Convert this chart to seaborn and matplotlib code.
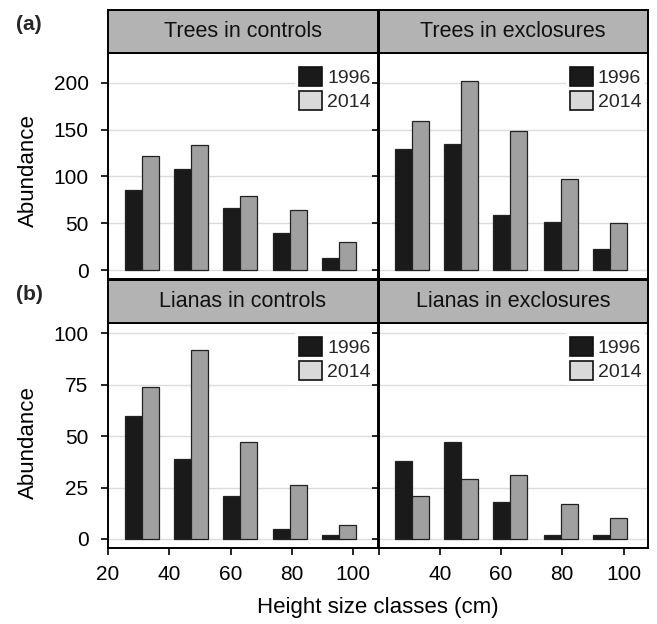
import matplotlib
matplotlib.use("Agg")
import matplotlib.pyplot as plt
import seaborn as sns
import pandas as pd
from matplotlib.patches import Patch

# ---------------- data ----------------
height_class_mid = [31, 47, 63, 79.5, 95.5]
years = ["1996", "2014"]

trees_controls_1996 = [86, 108, 66, 40, 13]
trees_controls_2014 = [122, 134, 79, 64, 30]
trees_exclosures_1996 = [129, 135, 59, 51, 22]
trees_exclosures_2014 = [159, 202, 149, 97, 50]
lianas_controls_1996 = [60, 39, 21, 5, 2]
lianas_controls_2014 = [74, 92, 47, 26, 7]
lianas_exclosures_1996 = [38, 47, 18, 2, 2]
lianas_exclosures_2014 = [21, 29, 31, 17, 10]

panel_titles = ["Trees in controls", "Trees in exclosures",
                "Lianas in controls", "Lianas in exclosures"]
x_ticks = [20, 40, 60, 80, 100]
x_tick_labels_left = ["20", "40", "60", "80", "100"]
x_tick_labels_right = ["", "40", "60", "80", "100"]
trees_y_ticks = [0, 50, 100, 150, 200]
lianas_y_ticks = [0, 25, 50, 75, 100]
row_labels = ["(a)", "(b)"]
x_label = "Height size classes (cm)"
y_label = "Abundance"

# ---------------- style ----------------
sns.set_theme(style="white")
plt.rcParams["font.family"] = ["Liberation Sans", "DejaVu Sans"]

bar_colors = {"1996": "#1a1a1a", "2014": "#a0a0a0"}
legend_colors = {"1996": "#1a1a1a", "2014": "#d9d9d9"}
strip_color = "#b3b3b3"

W, H = 657, 624
fig = plt.figure(figsize=(W / 100, H / 100), dpi=100)


def box(x0, y0, x1, y1):
    return [x0 / W, 1 - y1 / H, (x1 - x0) / W, (y1 - y0) / H]


cols = [(108, 377.5), (378.5, 648)]
rows = [dict(strip=(10, 53), plot=(53, 279), ylim=(-9.6, 232),
             yticks=trees_y_ticks, label_y=0.482),
        dict(strip=(280, 323), plot=(323, 548), ylim=(-4.4, 105),
             yticks=lianas_y_ticks, label_y=0.467)]

panel_data = [(trees_controls_1996, trees_controls_2014),
              (trees_exclosures_1996, trees_exclosures_2014),
              (lianas_controls_1996, lianas_controls_2014),
              (lianas_exclosures_1996, lianas_exclosures_2014)]

spine_lw = 1.4

for r, row in enumerate(rows):
    for c, (x0, x1) in enumerate(cols):
        i = r * 2 + c
        v96, v14 = panel_data[i]
        df = pd.DataFrame({
            "height": height_class_mid + height_class_mid,
            "year": [years[0]] * len(v96) + [years[1]] * len(v14),
            "abundance": v96 + v14,
        })
        ax = fig.add_axes(box(x0, row["plot"][0], x1, row["plot"][1]))
        ax.set_axisbelow(True)
        ax.yaxis.grid(True, color="#dcdcdc", lw=1.0)
        sns.barplot(data=df, x="height", y="abundance", hue="year",
                    hue_order=years, palette=bar_colors, native_scale=True,
                    width=0.6875, errorbar=None, edgecolor="#222222",
                    linewidth=0.9, legend=False, ax=ax)
        ax.set_xlim(20, 108)
        ax.set_ylim(*row["ylim"])
        ax.set_yticks(row["yticks"])
        ax.set_xticks(x_ticks)
        ax.set_xticklabels(x_tick_labels_left if c == 0 else x_tick_labels_right)
        ax.set_xlabel("")
        for s in ax.spines.values():
            s.set_linewidth(spine_lw)
            s.set_color("black")
        ax.tick_params(axis="y", direction="out", length=5, width=1.2,
                       pad=9, labelsize=15, colors="black", left=True)
        if c == 0:
            ax.set_ylabel(y_label, fontsize=16, color="black")
            ax.yaxis.set_label_coords(-0.255, row["label_y"])
        else:
            ax.set_ylabel("")
            ax.tick_params(axis="y", labelleft=False)
        if r == 1:
            ax.tick_params(axis="x", direction="out", length=5, width=1.2,
                           pad=7, labelsize=15, colors="black", bottom=True)
        else:
            ax.tick_params(axis="x", bottom=False, labelbottom=False)

        handles = [Patch(facecolor=legend_colors[y], edgecolor="#111111",
                         linewidth=1.2, label=y) for y in years]
        ax.legend(handles=handles, loc="upper right",
                  bbox_to_anchor=(0.99, 0.955), frameon=True,
                  framealpha=1, facecolor="white", edgecolor="none",
                  fontsize=14, handlelength=1.2, handleheight=1.1,
                  handletextpad=0.25, labelspacing=0.2, borderpad=0.2,
                  borderaxespad=0, fancybox=False)

        # strip header
        sax = fig.add_axes(box(x0, row["strip"][0], x1, row["strip"][1]))
        sax.set_facecolor(strip_color)
        sax.set_xticks([])
        sax.set_yticks([])
        for s in sax.spines.values():
            s.set_linewidth(spine_lw)
            s.set_color("black")
        sax.text(0.5, 0.5, panel_titles[i], ha="center", va="center",
                 fontsize=15.5, color="#111111", transform=sax.transAxes)

fig.text(29 / W, 1 - 24 / H, row_labels[0], fontsize=15, fontweight="bold",
         ha="center", va="center")
fig.text(29 / W, 1 - 295 / H, row_labels[1], fontsize=15, fontweight="bold",
         ha="center", va="center")
fig.text(378 / W, 1 - 607 / H, x_label, fontsize=16, ha="center",
         va="center", color="black")

fig.savefig("out.png", dpi=100)
